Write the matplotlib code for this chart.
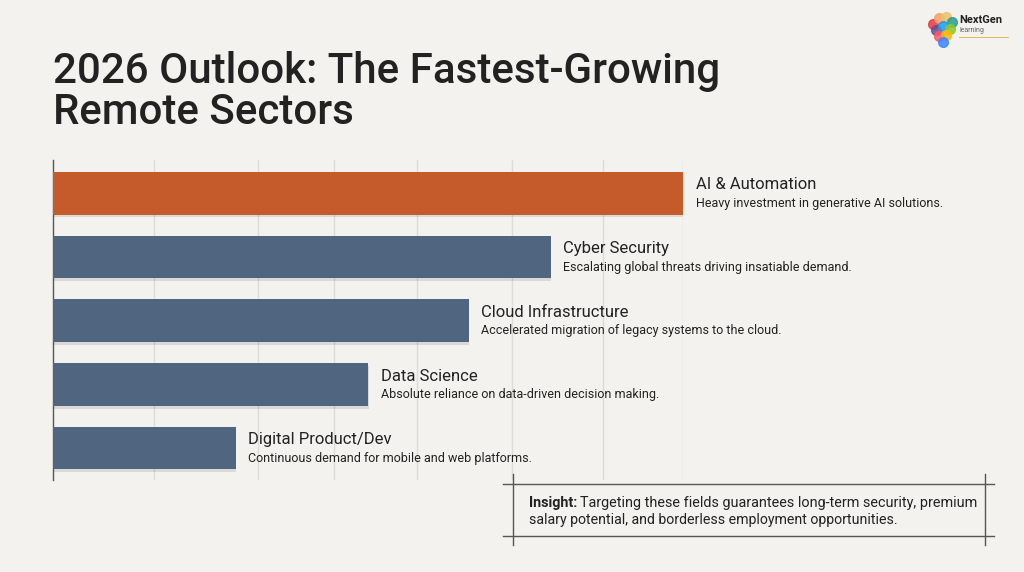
import matplotlib
matplotlib.use("Agg")
import matplotlib.pyplot as plt
import matplotlib.patheffects as pe

# ---- data ----
sectors = ["AI & Automation", "Cyber Security", "Cloud Infrastructure",
           "Data Science", "Digital Product/Dev"]
descriptions = ["Heavy investment in generative AI solutions.",
                "Escalating global threats driving insatiable demand.",
                "Accelerated migration of legacy systems to the cloud.",
                "Absolute reliance on data-driven decision making.",
                "Continuous demand for mobile and web platforms."]
growth_index = [100, 79, 66, 50, 29]
grid_ticks = [16, 32.5, 44.6, 57.8, 72.9, 87.3, 100]
bar_colors = ["#c55b2a", "#4f6580", "#4f6580", "#4f6580", "#4f6580"]

title_lines = ["2026 Outlook: The Fastest-Growing", "Remote Sectors"]
insight_bold = "Insight:"
insight_lines = ["Targeting these fields guarantees long-term security, premium",
                 "salary potential, and borderless employment opportunities."]

BG = "#f3f2ee"
TXT = "#222222"
FONT = "Roboto"

fig = plt.figure(figsize=(10.24, 5.72), dpi=100, facecolor=BG)
W, H = 1024, 572

def fx(px):
    return px / W

def fy(py):
    return 1 - py / H

ax = fig.add_axes([fx(53), fy(480), fx(683) - fx(53), (480 - 160) / H])
ax.set_facecolor(BG)
ax.patch.set_alpha(0)
y = list(range(len(sectors)))
bars = ax.barh(y, growth_index, height=0.67, color=bar_colors, zorder=3)
for b in bars:
    b.set_path_effects([pe.SimplePatchShadow(offset=(0.5, -2), shadow_rgbFace="#000000", alpha=0.10),
                        pe.Normal()])
ax.set_xlim(0, 100)
ax.set_ylim(4.5, -0.52)
ax.set_xticks(grid_ticks)
ax.grid(axis="x", color="#dcdbd6", linewidth=1.0, zorder=0)
ax.tick_params(left=False, bottom=False, labelleft=False, labelbottom=False)
for s in ["top", "right", "bottom"]:
    ax.spines[s].set_visible(False)
ax.spines["left"].set_color("#555555")
ax.spines["left"].set_linewidth(1.0)

for i, (v, name, desc) in enumerate(zip(growth_index, sectors, descriptions)):
    ax.text(v + 2.0, i - 0.13, name, fontsize=12, color=TXT, family=FONT,
            va="center", ha="left", clip_on=False)
    ax.text(v + 2.0, i + 0.16, desc, fontsize=9, color=TXT, family=FONT,
            va="center", ha="left", clip_on=False)

# ---- title ----
fig.text(fx(53), fy(72), title_lines[0], fontsize=30.3, color=TXT, family=FONT,
         weight="medium", va="center", ha="left")
fig.text(fx(53), fy(112), title_lines[1], fontsize=30.3, color=TXT, family=FONT,
         weight="medium", va="center", ha="left")

# ---- insight box ----
lc = "#555555"
fig.add_artist(plt.Line2D([fx(503), fx(994)], [fy(484), fy(484)], color=lc, lw=1.0))
fig.add_artist(plt.Line2D([fx(503), fx(994)], [fy(536), fy(536)], color=lc, lw=1.0))
fig.add_artist(plt.Line2D([fx(513), fx(513)], [fy(474), fy(545)], color=lc, lw=1.0))
fig.add_artist(plt.Line2D([fx(985), fx(985)], [fy(474), fy(545)], color=lc, lw=1.0))
tb = fig.text(fx(529), fy(503), insight_bold, fontsize=10.4, color=TXT, family=FONT,
              weight="bold", va="center", ha="left")
fig.canvas.draw()
bw = tb.get_window_extent(renderer=fig.canvas.get_renderer()).width
fig.text(fx(529) + (bw + 3) / W, fy(503), insight_lines[0], fontsize=10.4, color=TXT,
         family=FONT, va="center", ha="left")
fig.text(fx(529), fy(520), insight_lines[1], fontsize=10.2, color=TXT,
         family=FONT, va="center", ha="left")

# ---- logo ----
logo_colors = ["#e63946", "#f4a261", "#e9c46a", "#2a9d8f", "#6a4c93", "#1d9bf0",
               "#8ac926", "#ff595e", "#ffb703", "#3a86ff"]
lx = [933, 939, 946, 952, 936, 943, 950, 939, 946, 943]
ly = [24, 18, 17, 22, 30, 26, 29, 36, 35, 42]
for k in range(len(lx)):
    fig.add_artist(plt.Line2D([fx(lx[k])], [fy(ly[k])], lw=0, marker="o", markersize=7,
                              color=logo_colors[k], alpha=0.85))
fig.text(fx(959), fy(20), "NextGen", fontsize=8, weight="bold", color=TXT, family=FONT,
         va="center", ha="left")
fig.text(fx(959), fy(30), "learning", fontsize=5, color="#666666", family=FONT,
         va="center", ha="left")
fig.add_artist(plt.Line2D([fx(959), fx(1008)], [fy(37), fy(37)], color="#d9b24c", lw=0.6))

fig.savefig("out.png", dpi=100, facecolor=BG)
